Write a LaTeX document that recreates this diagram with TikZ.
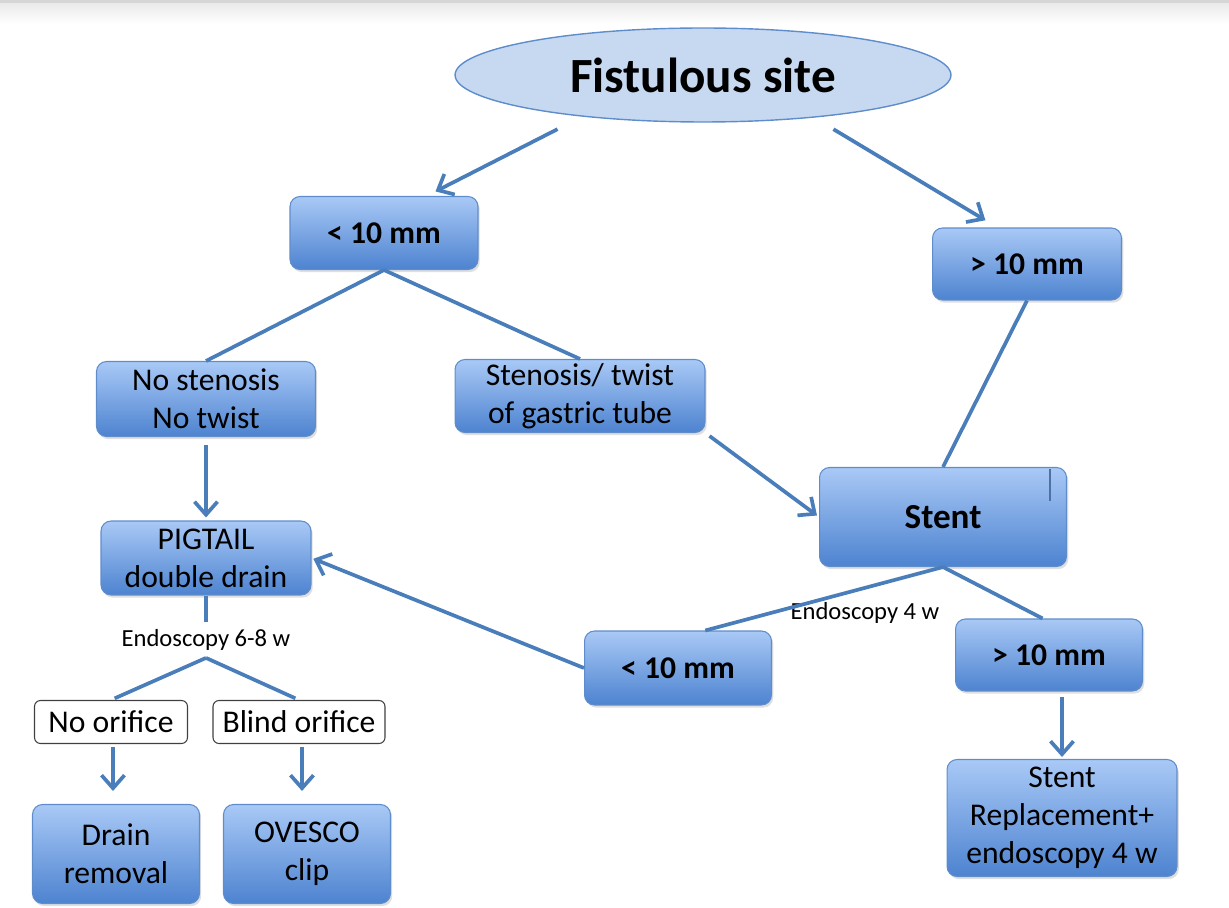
\documentclass[tikz,border=0pt]{standalone}
\usepackage{fontspec}
\setmainfont{Carlito}
\usetikzlibrary{arrows.meta,shapes.geometric,shadows}

\definecolor{linkblue}{HTML}{4A7EBB}
\definecolor{boxedge}{HTML}{5F8DCB}
\definecolor{boxtop}{HTML}{A9C9F6}
\definecolor{boxbot}{HTML}{4D83D0}
\definecolor{ovalfill}{HTML}{C6D9F1}

\begin{document}
\begin{tikzpicture}[x=0.02cm, y=-0.02cm,
    oval/.style={ellipse, draw=boxedge, line width=0.8pt, fill=ovalfill, inner sep=0pt,
        font=\fontsize{28}{33}\selectfont\bfseries},
    box/.style={rectangle, rounded corners=0.2cm, draw=boxedge, line width=0.6pt,
        top color=boxtop, bottom color=boxbot, align=center, inner sep=0pt,
        font=\fontsize{18}{21.5}\selectfont,
        drop shadow={opacity=0.25, shadow xshift=1pt, shadow yshift=-1.5pt}},
    boldbox/.style={box, font=\fontsize{18}{21.5}\selectfont\bfseries},
    plainbox/.style={rectangle, rounded corners=0.12cm, draw=black!75, line width=0.6pt,
        fill=white, inner sep=0pt, font=\fontsize{18}{21.5}\selectfont},
    note/.style={inner sep=4pt, font=\fontsize{14}{16}\selectfont},
    link/.style={draw=linkblue, line width=2.1pt},
    arrow/.style={link, -{Straight Barb[length=2.6mm, width=4.6mm]}}]

    \useasboundingbox (0,0) rectangle (1229,908);
    % top strip
    \fill[black!16] (0,0) rectangle (1229,4);
    \shade[top color=black!8, bottom color=white] (0,4) rectangle (1229,24);

    % nodes
    \node[oval, minimum width=9.92cm, minimum height=1.88cm] (site) at (703,75) {Fistulous site};
    \node[boldbox, minimum width=3.76cm, minimum height=1.46cm] (small1) at (384,233) {< 10 mm};
    \node[boldbox, minimum width=3.78cm, minimum height=1.44cm] (big1) at (1027,264) {> 10 mm};
    \node[box, minimum width=4.38cm, minimum height=1.5cm] (nosten) at (206,399) {No stenosis\\No twist};
    \node[box, minimum width=5cm, minimum height=1.46cm] (sten) at (580,396) {Stenosis/ twist\\of gastric tube};
    \node[boldbox, minimum width=4.94cm, minimum height=1.98cm,
        font=\fontsize{20}{24}\selectfont\bfseries] (stent) at (943,517) {Stent};
    \node[box, minimum width=4.2cm, minimum height=1.48cm] (pigtail) at (206,558) {PIGTAIL\\double drain};
    \node[boldbox, minimum width=3.74cm, minimum height=1.48cm] (small2) at (678,668) {< 10 mm};
    \node[boldbox, minimum width=3.74cm, minimum height=1.44cm] (big2) at (1049,655) {> 10 mm};
    \node[note] (endo4) at (865,613) {Endoscopy 4 w};
    \node[note] (endo68) at (206,640) {Endoscopy 6-8 w};
    \node[plainbox, minimum width=3.06cm, minimum height=0.86cm] (noor) at (111,722) {No orifice};
    \node[plainbox, minimum width=3.44cm, minimum height=0.86cm] (blind) at (299,722) {Blind orifice};
    \node[box, minimum width=3.34cm, minimum height=1.98cm] (drain) at (116,854) {Drain\\removal};
    \node[box, minimum width=3.34cm, minimum height=1.98cm] (ovesco) at (307,854) {OVESCO\\clip};
    \node[box, minimum width=4.6cm, minimum height=2.34cm] (repl) at (1062,818) {Stent\\Replacement+\\endoscopy 4 w};
    \draw[boxedge!80!black, line width=0.8pt] ([xshift=-0.34cm, yshift=-0.04cm]stent.north east) -- ++(0,32);

    % connectors
    \draw[arrow, shorten <=0.55cm, shorten >=0.2cm] (site.199) -- (small1.41);
    \draw[arrow, shorten <=0.45cm, shorten >=0.28cm] (site.339) -- (big1.129);
    \draw[link] (small1.south) -- (nosten.north);
    \draw[link] (small1.south) -- (sten.north);
    \draw[link] (big1.south) -- (stent.north);
    \draw[arrow, shorten <=0.1cm, shorten >=0.05cm] (sten.south east) -- (stent.west);
    \draw[arrow, shorten <=0.16cm, shorten >=0.06cm] (nosten.south) -- (pigtail.north);
    \draw[link] (stent.south) -- (small2.54);
    \draw[link] (stent.south) -- (big2.100);
    \draw[arrow, shorten >=0.04cm] (small2.west) -- (pigtail.east);
    \draw[link] (pigtail.south) -- (endo68.north);
    \draw[link, shorten >=0.08cm] (endo68.south) -- (noor.north);
    \draw[link, shorten >=0.08cm] (endo68.south) -- (blind.north);
    \draw[arrow, shorten <=0.06cm, shorten >=0.26cm] ([xshift=0.04cm]noor.south) -- ([xshift=0.04cm]noor.south |- drain.north);
    \draw[arrow, shorten <=0.06cm, shorten >=0.26cm] ([xshift=0.06cm]blind.south) -- ([xshift=0.06cm]blind.south |- ovesco.north);
    \draw[arrow, shorten <=0.1cm, shorten >=0.04cm] (repl.north |- big2.south) -- (repl.north);
\end{tikzpicture}
\end{document}
